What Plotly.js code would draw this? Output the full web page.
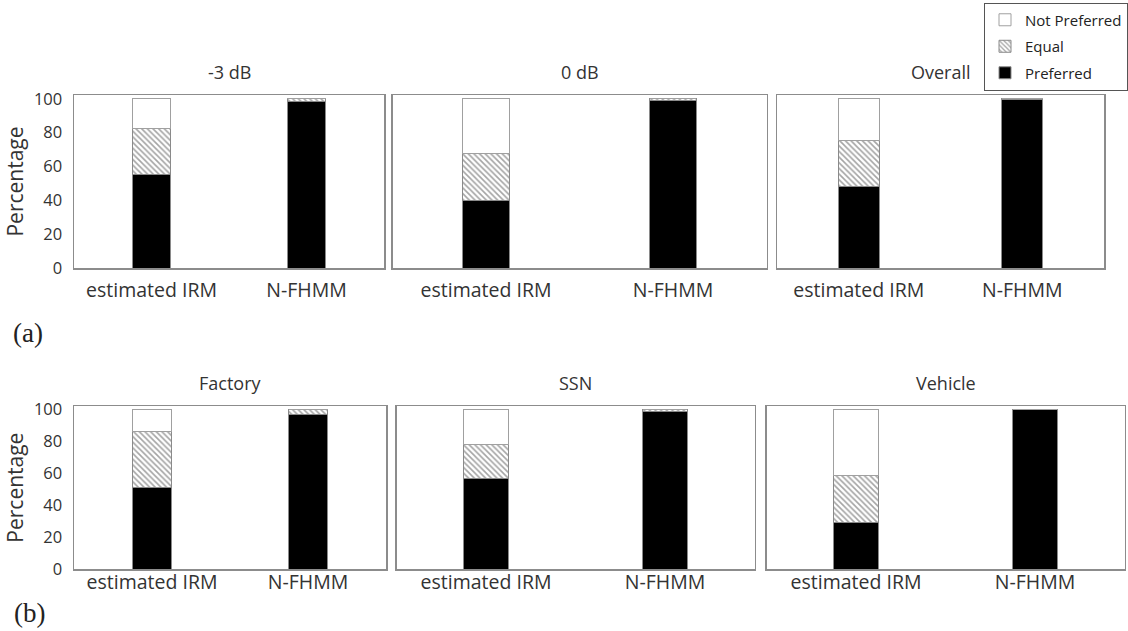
<!DOCTYPE html>
<html>
<head>
<meta charset="utf-8">
<script src="https://cdn.plot.ly/plotly-3.0.1.min.js"></script>
<style>html,body{margin:0;padding:0;background:#fff;}#chart{width:1128px;height:631px;}</style>
</head>
<body>
<div id="chart"></div>
<script>
// ---- data ----
const categories = ["estimated IRM", "N-FHMM"];
const panelTitles = ["-3 dB", "0 dB", "Overall", "Factory", "SSN", "Vehicle"];
const seriesNames = ["Preferred", "Equal", "Not Preferred"];
const yTicks = [0, 20, 40, 60, 80, 100];

const preferredM3dB = [55.5, 98.5];
const equalM3dB = [27, 1.5];
const notPreferredM3dB = [17.5, 0];

const preferred0dB = [40, 99];
const equal0dB = [27.5, 1];
const notPreferred0dB = [32.5, 0];

const preferredOverall = [48, 99.5];
const equalOverall = [27.5, 0.5];
const notPreferredOverall = [24.5, 0];

const preferredFactory = [51, 97];
const equalFactory = [35, 3];
const notPreferredFactory = [14, 0];

const preferredSSN = [57, 98.5];
const equalSSN = [21, 1.5];
const notPreferredSSN = [22, 0];

const preferredVehicle = [29, 100];
const equalVehicle = [30, 0];
const notPreferredVehicle = [41, 0];

const panelSeries = [
  [preferredM3dB, equalM3dB, notPreferredM3dB],
  [preferred0dB, equal0dB, notPreferred0dB],
  [preferredOverall, equalOverall, notPreferredOverall],
  [preferredFactory, equalFactory, notPreferredFactory],
  [preferredSSN, equalSSN, notPreferredSSN],
  [preferredVehicle, equalVehicle, notPreferredVehicle]
];

// ---- layout geometry (pixels) ----
const W = 1128, H = 631;
const boxes = [
  [74, 384, 95, 268], [392.5, 766.5, 95, 268], [777, 1104, 95, 268],
  [74, 386, 406, 569.3], [396.5, 754.5, 406, 569.3], [766.5, 1124.5, 406, 569.3]
];
const textColor = "#333333";
const font = "Open Sans, sans-serif";

const styles = [
  {color: "#000000", line: {color: "#8a8a8a", width: 1}},
  {color: "#ffffff", line: {color: "#8a8a8a", width: 1},
   pattern: {shape: "\\", size: 4, solidity: 0.4, fgcolor: "#4a4a4a", bgcolor: "#ffffff", fillmode: "overlay"}},
  {color: "#ffffff", line: {color: "#a0a0a0", width: 1}}
];
const legendRanks = [3, 2, 1];

const traces = [];
panelSeries.forEach((series, p) => {
  series.forEach((vals, s) => {
    traces.push({
      type: "bar",
      x: categories,
      y: vals,
      name: seriesNames[s],
      legendgroup: seriesNames[s],
      legendrank: legendRanks[s],
      showlegend: p === 0,
      width: 0.25,
      marker: styles[s],
      xaxis: "x" + (p + 1),
      yaxis: "y" + (p + 1),
      hoverinfo: "y+name"
    });
  });
});

const layout = {
  width: W, height: H,
  margin: {l: 0, r: 0, t: 0, b: 0},
  paper_bgcolor: "#fff", plot_bgcolor: "#fff",
  barmode: "stack",
  font: {family: font, color: textColor, size: 16},
  showlegend: true,
  legend: {
    x: 1, xanchor: "right", y: 0.996, yanchor: "top",
    bordercolor: "#555", borderwidth: 1, bgcolor: "#fff",
    font: {family: font, size: 15, color: "#222"},
    traceorder: "grouped", tracegroupgap: 4,
    itemwidth: 30
  },
  annotations: [],
  shapes: []
};

boxes.forEach((b, p) => {
  const k = p + 1;
  const row = p < 3 ? 0 : 1;
  layout["xaxis" + k] = {
    domain: [b[0] / W, b[1] / W],
    anchor: "y" + k,
    range: [-0.5, 1.5],
    showline: true, mirror: true, linecolor: "#8c8c8c", linewidth: 1.5,
    ticks: "", showgrid: false, zeroline: false, fixedrange: true,
    tickfont: {family: font, size: 19.5, color: textColor},
    ticklabelstandoff: row === 0 ? 4 : -5
  };
  layout["yaxis" + k] = {
    domain: [1 - b[3] / H, 1 - b[2] / H],
    anchor: "x" + k,
    range: [0, 102.2],
    tickvals: yTicks,
    showticklabels: (p === 0 || p === 3),
    showline: true, mirror: true, linecolor: "#8c8c8c", linewidth: 1.5,
    ticks: "", showgrid: false, zeroline: false, fixedrange: true,
    tickfont: {family: font, size: 16.5, color: textColor},
    ticklabelstandoff: 7,
    title: (p === 0 || p === 3) ? {text: "Percentage", font: {family: font, size: 21, color: textColor}, standoff: 4} : {text: ""}
  };
  layout.annotations.push({
    text: panelTitles[p],
    xref: "paper", yref: "paper",
    x: (b[0] + b[1]) / 2 / W, y: 1 - (b[2] - 23) / H,
    xanchor: "center", yanchor: "middle", showarrow: false,
    font: {family: font, size: 18, color: textColor}
  });
});

layout.annotations.push({
  text: "(a)", xref: "paper", yref: "paper", x: 28 / W, y: 1 - 333 / H,
  xanchor: "center", yanchor: "middle", showarrow: false,
  font: {family: "Liberation Serif, serif", size: 27, color: "#222"}
});
layout.annotations.push({
  text: "(b)", xref: "paper", yref: "paper", x: 29 / W, y: 1 - 613 / H,
  xanchor: "center", yanchor: "middle", showarrow: false,
  font: {family: "Liberation Serif, serif", size: 27, color: "#222"}
});

Plotly.newPlot("chart", traces, layout, {displayModeBar: false, staticPlot: true});
</script>
</body>
</html>
